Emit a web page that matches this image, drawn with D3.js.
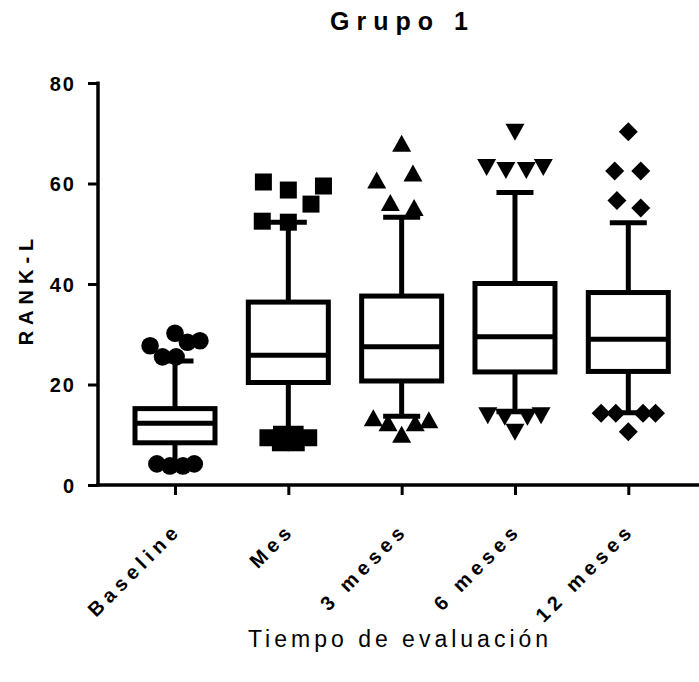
<!DOCTYPE html>
<html>
<head>
<meta charset="utf-8">
<script src="https://cdn.jsdelivr.net/npm/d3@7"></script>
<style>
  html, body { margin: 0; padding: 0; background: #fff; }
  svg { display: block; }
  text { font-family: "Liberation Sans", Arial, sans-serif; fill: #000; }
</style>
</head>
<body>
<script>
// ---- data ----
const categories = ["Baseline", "Mes", "3 meses", "6 meses", "12 meses"];
const symbols = ["circle", "square", "triangle", "triangleDown", "diamond"];
const whiskerLow  = [4.5, 10.0, 13.7, 14.6, 14.4];
const q1          = [8.4, 20.4, 20.7, 22.5, 22.6];
const medians     = [12.3, 25.8, 27.5, 29.5, 29.0];
const q3          = [15.2, 36.4, 37.6, 40.1, 38.3];
const whiskerHigh = [24.7, 52.3, 53.3, 58.2, 52.2];
// outlier values per category, with side-by-side offsets (fraction of category step)
const outlierValues = [
  [30.2, 27.7, 28.4, 28.7, 25.5, 25.5, 4.2, 3.8, 3.8, 4.2],
  [60.3, 58.7, 59.5, 55.9, 52.5, 52.3, 9.4, 10.1, 10.1, 9.4, 8.4, 8.4],
  [67.9, 60.6, 62.0, 56.1, 55.1, 13.3, 12.3, 12.3, 12.9, 10.0],
  [70.3, 63.3, 62.7, 62.7, 63.3, 13.9, 13.6, 13.6, 13.9, 10.6],
  [70.3, 62.5, 62.5, 56.6, 55.1, 14.3, 14.3, 14.3, 14.3, 10.6]
];
const outlierOffsets = [
  [0, -0.22, 0.11, 0.22, -0.11, 0.01, -0.16, -0.045, 0.07, 0.17],
  [-0.22, 0, 0.31, 0.2, -0.23, 0, -0.18, -0.06, 0.06, 0.18, -0.07, 0.07],
  [0, -0.22, 0.1, -0.1, 0.11, -0.25, -0.12, 0.12, 0.24, 0],
  [0, -0.25, -0.08, 0.1, 0.25, -0.24, -0.09, 0.11, 0.23, 0],
  [0, -0.12, 0.11, -0.1, 0.11, -0.24, -0.11, 0.13, 0.24, 0]
];
const yTicks = [0, 20, 40, 60, 80];
const title = "Grupo 1";
const yTitle = "RANK-L";
const xTitle = "Tiempo de evaluación";

// ---- layout ----
const W = 699, H = 682;
const svg = d3.select("body").append("svg").attr("width", W).attr("height", H);

const y = d3.scaleLinear().domain([0, 80]).range([485, 83]);
const x = d3.scalePoint().domain(categories).range([175, 628.3]);
const step = x.step();
const boxHalf = 40, capHalf = 18.5, lw = 5;

// axes
const yAxis = svg.append("g").attr("transform", "translate(98,0)")
  .call(d3.axisLeft(y).tickValues(yTicks).tickSize(10).tickPadding(14).tickFormat(d3.format("d")));
const xAxis = svg.append("g").attr("transform", "translate(0,485)")
  .call(d3.axisBottom(x).tickSize(10).tickFormat(""));
[yAxis, xAxis].forEach(g => {
  g.select(".domain").remove();
  g.selectAll(".tick line").attr("stroke", "#000").attr("stroke-width", 3);
});
// axis lines
svg.append("line").attr("x1", 98).attr("x2", 98).attr("y1", y(80) - 1.5).attr("y2", y(0) + 1.5)
  .attr("stroke", "#000").attr("stroke-width", 3.5);
svg.append("line").attr("x1", 96.25).attr("x2", W).attr("y1", y(0)).attr("y2", y(0))
  .attr("stroke", "#000").attr("stroke-width", 3.5);

yAxis.selectAll(".tick text")
  .style("font-size", "20px").style("font-weight", "bold")
  .style("letter-spacing", "2px").attr("dx", "2px").attr("dy", "0.36em");

// x category labels
categories.forEach((c, i) => {
  svg.append("text")
    .attr("transform", `translate(${x(c) + 4},${535}) rotate(-45)`)
    .attr("text-anchor", "end")
    .attr("dx", "5px")
    .style("font-size", "20px").style("font-weight", "bold").style("letter-spacing", "5px")
    .text(c);
});

// boxes
const data = categories.map((c, i) => ({
  c, i, lo: whiskerLow[i], q1: q1[i], med: medians[i], q3: q3[i], hi: whiskerHigh[i]
}));
const g = svg.append("g");
data.forEach(d => {
  const cx = x(d.c);
  g.append("line").attr("x1", cx).attr("x2", cx).attr("y1", y(d.hi)).attr("y2", y(d.q3))
    .attr("stroke", "#000").attr("stroke-width", lw);
  g.append("line").attr("x1", cx).attr("x2", cx).attr("y1", y(d.q1)).attr("y2", y(d.lo))
    .attr("stroke", "#000").attr("stroke-width", lw);
  g.append("line").attr("x1", cx - capHalf).attr("x2", cx + capHalf).attr("y1", y(d.hi)).attr("y2", y(d.hi))
    .attr("stroke", "#000").attr("stroke-width", lw);
  g.append("line").attr("x1", cx - capHalf).attr("x2", cx + capHalf).attr("y1", y(d.lo)).attr("y2", y(d.lo))
    .attr("stroke", "#000").attr("stroke-width", lw);
  g.append("rect").attr("x", cx - boxHalf).attr("width", 2 * boxHalf)
    .attr("y", y(d.q3)).attr("height", y(d.q1) - y(d.q3))
    .attr("fill", "#fff").attr("stroke", "#000").attr("stroke-width", lw);
  g.append("line").attr("x1", cx - boxHalf).attr("x2", cx + boxHalf).attr("y1", y(d.med)).attr("y2", y(d.med))
    .attr("stroke", "#000").attr("stroke-width", lw);
});

// outlier symbols
function symbolPath(type) {
  switch (type) {
    case "circle": return d3.symbol(d3.symbolCircle, Math.PI * 8.8 * 8.8)();
    case "square": return "M-8.5,-8.5H8.5V8.5H-8.5Z";
    case "triangle": return "M0,-9L9.5,8L-9.5,8Z";
    case "triangleDown": return "M0,9L9.5,-8L-9.5,-8Z";
    case "diamond": return "M0,-9.5L9.5,0L0,9.5L-9.5,0Z";
  }
}
categories.forEach((c, i) => {
  const p = symbolPath(symbols[i]);
  outlierValues[i].forEach((v, k) => {
    g.append("path").attr("d", p)
      .attr("transform", `translate(${x(c) + outlierOffsets[i][k] * step},${y(v)})`)
      .attr("fill", "#000");
  });
});

// titles
svg.append("text").attr("x", 399).attr("y", 30).attr("text-anchor", "middle")
  .attr("dx", "3.5px")
  .style("font-size", "25px").style("font-weight", "bold").style("letter-spacing", "7px")
  .text(title);
svg.append("text").attr("transform", "translate(33,292) rotate(-90)").attr("text-anchor", "middle")
  .attr("dx", "3px")
  .style("font-size", "20px").style("font-weight", "bold").style("letter-spacing", "6px")
  .text(yTitle);
svg.append("text").attr("x", 398).attr("y", 647).attr("text-anchor", "middle")
  .attr("dx", "2px")
  .style("font-size", "23px").style("letter-spacing", "4px")
  .text(xTitle);
</script>
</body>
</html>
